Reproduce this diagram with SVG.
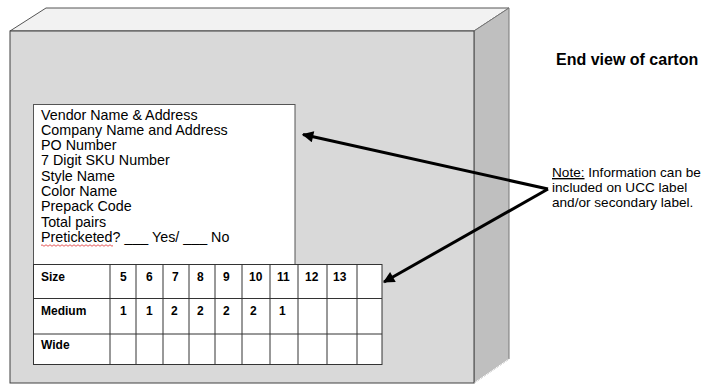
<svg xmlns="http://www.w3.org/2000/svg" width="702" height="384" viewBox="0 0 702 384">
<style>
.t{font-family:"Liberation Sans",Arial,sans-serif;fill:#000}
.lbl{font-size:14.3px}
.tb{font-size:12px;font-weight:bold}
.grid{fill:#fff;stroke:#333;stroke-width:1}
.arr{stroke:#000;stroke-width:3;fill:none;marker-end:url(#ah)}
</style>
<defs>
<marker id="ah" viewBox="0 0 10 10" refX="9" refY="5" markerWidth="4.6" markerHeight="3.8" orient="auto" markerUnits="strokeWidth">
<path d="M0,0 L10,5 L0,10 z" fill="#000"/>
</marker>
</defs>
<rect width="702" height="384" fill="#fff"/>
<g id="carton">
<polygon points="10,31 46,8 509,8 474,31" fill="#f2f2f2" stroke="#555" stroke-width="1"/>
<polygon points="474,31 509,8 509,359 474,383" fill="#bfbfbf" stroke="#777" stroke-width="1"/>
<line x1="474" y1="383" x2="509" y2="359" stroke="#fff" stroke-width="1"/>
<rect x="10" y="31" width="464" height="352" fill="#d9d9d9" stroke="#404040" stroke-width="1"/>
</g>
<g id="label">
<rect x="33.5" y="104.5" width="261.5" height="160" fill="#fff" stroke="#555" stroke-width="1"/>
<text class="t lbl" x="41" y="119.5">Vendor Name &amp; Address</text>
<text class="t lbl" x="41" y="134.8">Company Name and Address</text>
<text class="t lbl" x="41" y="150.1">PO Number</text>
<text class="t lbl" x="41" y="165.4">7 Digit SKU Number</text>
<text class="t lbl" x="41" y="180.7">Style Name</text>
<text class="t lbl" x="41" y="196">Color Name</text>
<text class="t lbl" x="41" y="211.3">Prepack Code</text>
<text class="t lbl" x="41" y="226.6">Total pairs</text>
<text class="t lbl" x="41" y="241.9">Preticketed? ___ Yes/ ___ No</text>
<path d="M41,245.5 q1,-1.5 2,0 t2,0 t2,0 t2,0 t2,0 t2,0 t2,0 t2,0 t2,0 t2,0 t2,0 t2,0 t2,0 t2,0 t2,0 t2,0 t2,0 t2,0 t2,0 t2,0 t2,0 t2,0 t2,0 t2,0 t2,0 t2,0 t2,0 t2,0 t2,0 t2,0 t2,0 t2,0 t2,0 t2,0 t2,0 t2,0" fill="none" stroke="#e03030" stroke-width="0.8"/>
</g>
<g id="size-table">
<rect class="grid" x="33.5" y="264.5" width="348.5" height="100"/>
<g stroke="#333" stroke-width="1">
<line x1="33.5" y1="298.5" x2="382" y2="298.5"/>
<line x1="33.5" y1="334" x2="382" y2="334"/>
<line x1="110" y1="264.5" x2="110" y2="364.5"/>
<line x1="136" y1="264.5" x2="136" y2="364.5"/>
<line x1="163" y1="264.5" x2="163" y2="364.5"/>
<line x1="189" y1="264.5" x2="189" y2="364.5"/>
<line x1="215" y1="264.5" x2="215" y2="364.5"/>
<line x1="242" y1="264.5" x2="242" y2="364.5"/>
<line x1="270" y1="264.5" x2="270" y2="364.5"/>
<line x1="298" y1="264.5" x2="298" y2="364.5"/>
<line x1="327" y1="264.5" x2="327" y2="364.5"/>
<line x1="357" y1="264.5" x2="357" y2="364.5"/>
</g>
<text class="t tb" x="41" y="280.5">Size</text>
<text class="t tb" x="120" y="280.5">5</text>
<text class="t tb" x="146" y="280.5">6</text>
<text class="t tb" x="172" y="280.5">7</text>
<text class="t tb" x="197" y="280.5">8</text>
<text class="t tb" x="223" y="280.5">9</text>
<text class="t tb" x="249" y="280.5">10</text>
<text class="t tb" x="277" y="280.5">11</text>
<text class="t tb" x="305" y="280.5">12</text>
<text class="t tb" x="333" y="280.5">13</text>
<text class="t tb" x="41" y="315">Medium</text>
<text class="t tb" x="120" y="315">1</text>
<text class="t tb" x="146" y="315">1</text>
<text class="t tb" x="171" y="315">2</text>
<text class="t tb" x="197" y="315">2</text>
<text class="t tb" x="223" y="315">2</text>
<text class="t tb" x="250" y="315">2</text>
<text class="t tb" x="279" y="315">1</text>
<text class="t tb" x="41" y="349">Wide</text>
</g>
<g id="title">
<text class="t" x="556" y="65" font-size="16" font-weight="bold">End view of carton</text>
</g>
<g id="note">
<text class="t" x="552" y="177" font-size="13.6"><tspan text-decoration="underline">Note:</tspan> Information can be</text>
<text class="t" x="552" y="191.8" font-size="13.6">included on UCC label</text>
<text class="t" x="552" y="206.6" font-size="13.6">and/or secondary label.</text>
</g>
<g id="connectors">
<path class="arr" d="M548,189 L303,134.5"/>
<path class="arr" d="M548,189 L384,282"/>
</g>
</svg>
